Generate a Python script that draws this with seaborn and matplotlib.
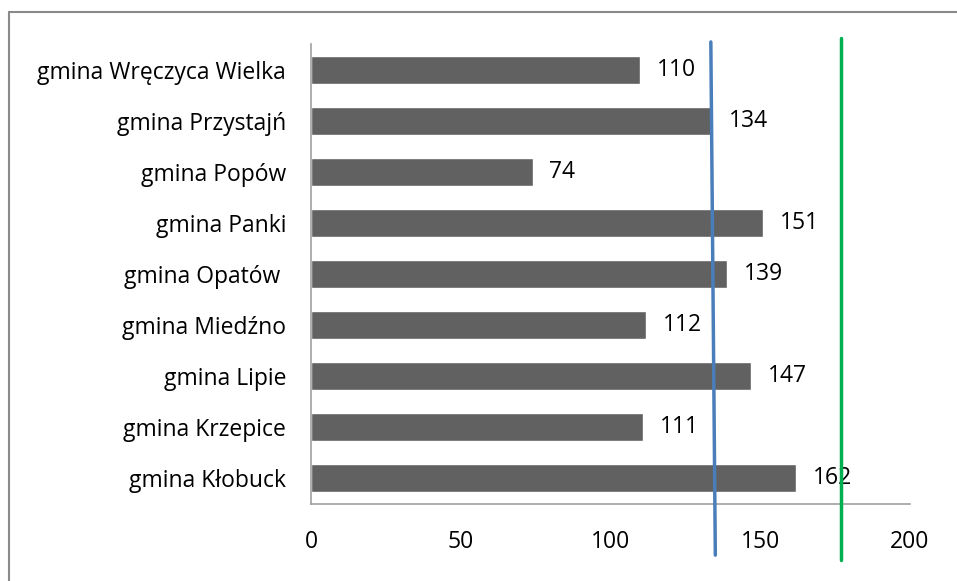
import matplotlib
matplotlib.use("Agg")
import matplotlib.pyplot as plt
import seaborn as sns
import pandas as pd
from matplotlib.lines import Line2D

# ===============================
# DATA
# ===============================
gminy = [
    "gmina Wręczyca Wielka",
    "gmina Przystajń",
    "gmina Popów",
    "gmina Panki",
    "gmina Opatów ",
    "gmina Miedźno",
    "gmina Lipie",
    "gmina Krzepice",
    "gmina Kłobuck",
]
wartosci = [110, 134, 74, 151, 139, 112, 147, 111, 162]

# reference lines (x at top, x at bottom)
linia_niebieska = [133.5, 135.0]
linia_zielona = [177.0, 177.0]

df = pd.DataFrame({"gmina": gminy, "wartosc": wartosci})

# ===============================
# STYLE
# ===============================
sns.set_style("white")
plt.rcParams["font.family"] = ["Open Sans", "DejaVu Sans"]
FS = 16.5

fig = plt.figure(figsize=(9.57, 5.81), dpi=100)
ax = fig.add_axes([311 / 957, 1 - 504 / 581, 599 / 957, 460 / 581])

sns.barplot(data=df, x="wartosc", y="gmina", color="#616161",
            saturation=1, width=0.55, ax=ax)

# value labels
for i, v in enumerate(wartosci):
    ax.text(v + 5.5, i, str(v), va="center", ha="left", fontsize=FS,
            color="black")

ax.set_xlim(0, 200)
ax.set_ylim(8.5, -0.5)
ax.set_xticks([0, 50, 100, 150, 200])
ax.set_xlabel("")
ax.set_ylabel("")
ax.tick_params(axis="both", length=0, labelsize=FS, colors="black")
ax.tick_params(axis="x", pad=19)
ax.tick_params(axis="y", pad=18)

for side in ["top", "right"]:
    ax.spines[side].set_visible(False)
for side in ["left", "bottom"]:
    ax.spines[side].set_color("#a0a0a0")
    ax.spines[side].set_linewidth(1.2)

# vertical reference lines (extend beyond axes)
ax.plot(linia_niebieska, [-0.54, 9.5], color="#4a7ebb", lw=2.5,
        clip_on=False, zorder=5)
ax.plot(linia_zielona, [-0.62, 9.6], color="#00b050", lw=2.5,
        clip_on=False, zorder=5)

# outer frame
fig.add_artist(Line2D([9 / 957, 1], [1 - 12 / 581, 1 - 12 / 581],
                      color="#8a8a8a", lw=1.5, transform=fig.transFigure))
fig.add_artist(Line2D([9 / 957, 9 / 957], [0, 1 - 12 / 581],
                      color="#8a8a8a", lw=1.5, transform=fig.transFigure))

fig.savefig("out.png", dpi=100)
